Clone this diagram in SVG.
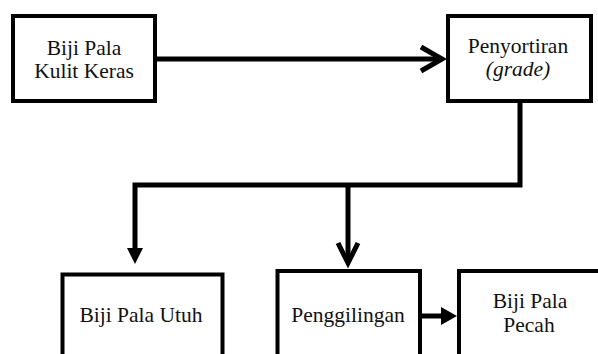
<svg xmlns="http://www.w3.org/2000/svg" width="598" height="354" viewBox="0 0 598 354">
<style>
.box{fill:#fff;stroke:#000;stroke-width:4}
.t{font-family:'Liberation Serif','Times New Roman',serif;font-size:21.5px;fill:#111;text-anchor:middle}
.it{font-style:italic}
.ln{fill:none;stroke:#000;stroke-width:5;stroke-linejoin:miter}
.hd{fill:#000;stroke:none}
</style>
<rect width="598" height="354" fill="#fff"/>
<g id="connectors">
<line class="ln" x1="157" y1="59" x2="441" y2="59"/>
<polyline class="ln" points="421,47 442,59 421,71"/>
<path class="ln" d="M520,103 V185 H135 V249"/>
<polygon class="hd" points="127,248 143,248 135,264"/>
<path class="ln" d="M348,185 V262"/>
<polyline class="ln" points="338,243 348,263 358,243"/>
<line class="ln" x1="422" y1="316" x2="443" y2="316"/>
<polygon class="hd" points="441,307 457,316 441,325"/>
</g>
<g id="n1">
<rect class="box" x="13" y="16" width="142" height="85"/>
<text class="t" x="84" y="55">Biji Pala</text>
<text class="t" x="84" y="78">Kulit Keras</text>
</g>
<g id="n2">
<rect class="box" x="448" y="16" width="143" height="85"/>
<text class="t" x="518" y="53">Penyortiran</text>
<text class="t it" x="518" y="76">(grade)</text>
</g>
<g id="n3">
<rect class="box" x="62.5" y="274.5" width="160" height="100"/>
<text class="t" x="141" y="322">Biji Pala Utuh</text>
</g>
<g id="n4">
<rect class="box" x="277.5" y="271" width="142.5" height="100"/>
<text class="t" x="348" y="322">Penggilingan</text>
</g>
<g id="n5">
<rect class="box" x="459" y="271" width="160" height="100"/>
<text class="t" x="530" y="308">Biji Pala</text>
<text class="t" x="529" y="332">Pecah</text>
</g>
</svg>
